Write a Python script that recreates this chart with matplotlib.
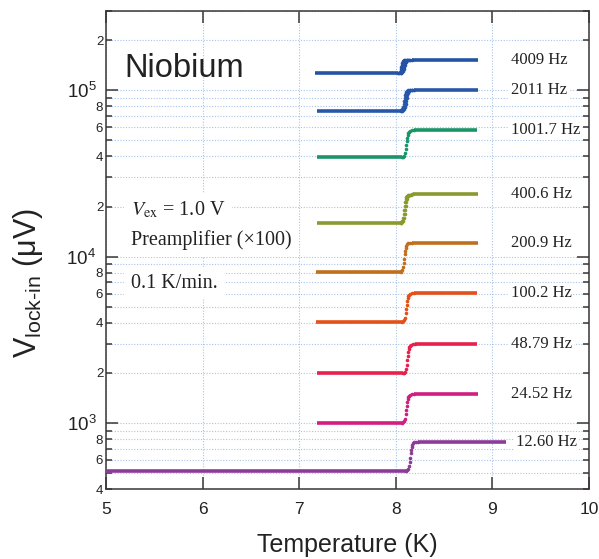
import numpy as np
import matplotlib.pyplot as plt
from matplotlib.ticker import FixedLocator, LogLocator, FuncFormatter, LogFormatterSciNotation

plt.rcParams['font.family'] = 'Liberation Sans'
plt.rcParams['mathtext.fontset'] = 'custom'
plt.rcParams['mathtext.rm'] = 'Liberation Sans'
plt.rcParams['mathtext.it'] = 'Liberation Sans:italic'

# lock-in voltage steps across Tc, one curve per excitation frequency
freq_labels = ['4009 Hz', '2011 Hz', '1001.7 Hz', '400.6 Hz', '200.9 Hz',
               '100.2 Hz', '48.79 Hz', '24.52 Hz', '12.60 Hz']
v_low = [127000, 75500, 39600, 16000, 8130, 4050, 1990, 1000, 518]      # uV, below Tc
v_high = [152700, 100800, 57500, 23700, 12130, 6030, 2980, 1493, 773]   # uV, above Tc
t_start = [7.16, 7.18, 7.18, 7.18, 7.17, 7.17, 7.18, 7.18, 5.0]
t_onset = [8.02, 8.05, 8.07, 8.05, 8.05, 8.07, 8.08, 8.07, 8.11]
t_end = [8.85, 8.85, 8.84, 8.85, 8.85, 8.84, 8.84, 8.85, 9.14]
branch_shift = [0.03, 0.02, 0.0, 0.01, 0.0, 0.0, 0.0, 0.0, 0.0]   # warming/cooling offset
colors = ['#2353a2', '#2757a8', '#1a9468', '#8a9a2e', '#c0701c',
          '#e4501a', '#e8204e', '#d21e7e', '#8c3c98']

# shape of the jump: temperature past onset (K) vs fraction of the step (log scale)
trans_dt = [0.0, 0.01, 0.02, 0.03, 0.035, 0.04, 0.045, 0.05, 0.055, 0.06, 0.07, 0.08, 0.10, 0.12]
trans_frac = [0.0, 0.02, 0.06, 0.15, 0.30, 0.45, 0.60, 0.72, 0.82, 0.90, 0.95, 0.975, 0.99, 1.0]

fig = plt.figure(figsize=(5.99, 5.59), dpi=100)
ax = fig.add_axes([0.177, 0.1247, 0.806, 0.856])
ax.set_yscale('log')

dt = np.array(trans_dt)
frac = np.array(trans_frac)
for i, lab in enumerate(freq_labels):
    c = colors[i]
    ax.plot([t_start[i], t_onset[i]], [v_low[i], v_low[i]], color=c, lw=2.6,
            solid_capstyle='butt', zorder=3)
    tt = t_onset[i] + dt
    vv = v_low[i] * (v_high[i] / v_low[i]) ** frac
    ax.plot(tt, vv, 'o', ms=2.6, mec='none', color=c, zorder=3)
    if branch_shift[i] > 0:
        ax.plot(tt + branch_shift[i], vv, 'o', ms=2.6, mec='none', color=c, zorder=3)
    ax.plot([tt[-1] + branch_shift[i], t_end[i]], [v_high[i], v_high[i]], color=c, lw=2.6,
            solid_capstyle='butt', zorder=3)
    lab_t = 9.25 if t_end[i] > 9 else 9.19
    ax.text(lab_t, v_high[i], lab, family='Liberation Serif', fontsize=12, color='#222222',
            va='center', ha='left', zorder=4,
            bbox=dict(fc='white', ec='none', pad=1.5))

ax.set_xlim(5, 10)
ax.set_ylim(400, 3e5)

ax.xaxis.set_major_locator(FixedLocator([5, 6, 7, 8, 9, 10]))
ax.yaxis.set_major_locator(LogLocator(base=10, numticks=10))
ax.yaxis.set_minor_locator(LogLocator(base=10, subs=range(2, 10), numticks=20))
ax.yaxis.set_major_formatter(LogFormatterSciNotation())


def minor_label(v, pos):
    d = int(round(v / 10 ** np.floor(np.log10(v))))
    return str(d) if d in (2, 4, 6, 8) else ''


ax.yaxis.set_minor_formatter(FuncFormatter(minor_label))

ax.tick_params(which='both', direction='in', top=True, right=True,
               color='#3b3636', width=1.1, labelcolor='#222222')
ax.tick_params(which='major', length=8.5)
ax.tick_params(which='minor', length=4.3)
ax.tick_params(axis='x', which='major', labelsize=12.5, pad=9)
ax.tick_params(axis='y', which='major', labelsize=13.5, pad=7)
ax.tick_params(axis='y', which='minor', labelsize=9.5, pad=2)

ax.set_axisbelow(True)
grid_kw = dict(color='#a8c4ea', ls=(0, (1, 1.5)), lw=0.8)
ax.grid(axis='y', which='both', **grid_kw)
ax.grid(axis='x', which='major', **grid_kw)
for s in ax.spines.values():
    s.set_color('#3b3636')
    s.set_linewidth(1.1)

ax.text(0.039, 0.880, 'Niobium', transform=ax.transAxes, fontsize=23.5,
        color='#222222', va='center', ha='left')

info_kw = dict(transform=ax.transAxes, family='Liberation Serif', math_fontfamily='stix',
               fontsize=14.5, color='#222222', va='center', ha='left', zorder=4,
               bbox=dict(fc='white', ec='none', pad=5))
ax.text(0.052, 0.5836, r'$V_{\rm ex}$ = 1.0 V', **info_kw)
ax.text(0.052, 0.5206, 'Preamplifier (\u00d7100)', **info_kw)
ax.text(0.052, 0.431, '0.1 K/min.', **info_kw)

fig.text(0.579, 0.025, 'Temperature (K)', fontsize=18, color='#222222',
         ha='center', va='center')
fig.text(0.047, 0.494, '$\\mathrm{V}_{\\mathrm{lock\u2010in}}$ (\u03bcV)', fontsize=22,
         color='#222222', rotation=90, ha='center', va='center')

fig.savefig('out.png', dpi=100)
